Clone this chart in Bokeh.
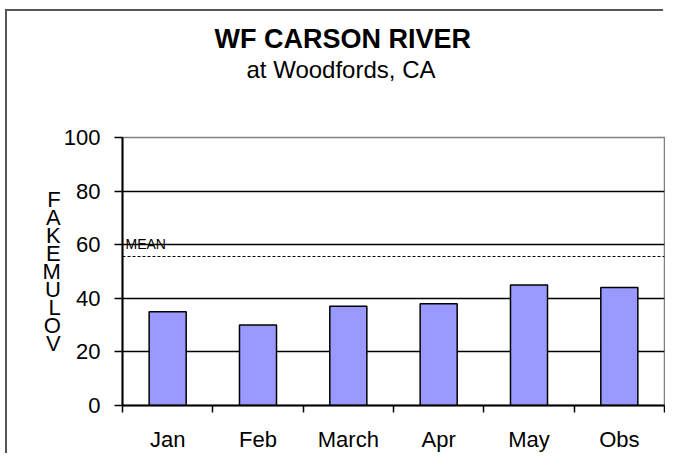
from bokeh.plotting import figure
from bokeh.models import Range1d, FixedTicker, Label, Span, ColumnDataSource, Title
from bokeh.embed import file_html
from bokeh.resources import INLINE

# ---- data ----
categories = ["Jan", "Feb", "March", "Apr", "May", "Obs"]
values = [35, 30, 37, 38, 45, 44]
mean_value = 55.6
y_ticks = [0, 20, 40, 60, 80, 100]
title_text = "WF CARSON RIVER"
subtitle_text = "at Woodfords, CA"
y_label = "FAKEMULOV"
mean_label = "MEAN"

FONT = "Liberation Sans"
n = len(categories)
centers = [i + 0.5 for i in range(n)]
bounds = [float(i) for i in range(n + 1)]

source = ColumnDataSource(dict(x=centers, top=values, cat=categories))

p = figure(width=658, height=444, output_backend="svg", toolbar_location=None,
           x_range=Range1d(0, n), y_range=Range1d(0, 100),
           min_border_left=115, min_border_right=1, min_border_top=126,
           min_border_bottom=50, background_fill_color="white",
           border_fill_color="white")
# outer chart frame (left and top edges) drawn as a shadow, without changing the box size
p.styles = {"float": "left", "margin-left": "7px", "margin-top": "11px",
            "box-shadow": "-2px -2px 0px 0px #555555"}

p.outline_line_color = "#808080"
p.outline_line_width = 1.5

# grid
p.xgrid.visible = False
p.ygrid.ticker = FixedTicker(ticks=y_ticks)
p.ygrid.grid_line_color = "black"
p.ygrid.grid_line_width = 1.5

# y axis
p.yaxis.ticker = FixedTicker(ticks=y_ticks)
p.yaxis.axis_line_color = "black"
p.yaxis.axis_line_width = 2
p.yaxis.major_tick_out = 8
p.yaxis.major_tick_in = 0
p.yaxis.major_tick_line_width = 1.5
p.yaxis.minor_tick_line_color = None
p.yaxis.major_label_standoff = 14
p.yaxis.major_label_text_font = FONT
p.yaxis.major_label_text_font_size = "22px"
p.yaxis.major_label_text_color = "black"
p.yaxis.axis_label = "\n".join(y_label)
p.yaxis.axis_label_orientation = "horizontal"
p.yaxis.axis_label_text_font = FONT
p.yaxis.axis_label_text_font_style = "normal"
p.yaxis.axis_label_text_font_size = "22px"
p.yaxis.axis_label_text_line_height = 0.72
p.yaxis.axis_label_text_color = "black"
p.yaxis.axis_label_standoff = 0

# x axis: labels at category centres, ticks at category boundaries
p.xaxis.ticker = FixedTicker(ticks=centers, minor_ticks=bounds)
p.xaxis.major_label_overrides = {c: cat for c, cat in zip(centers, categories)}
p.xaxis.axis_line_color = "black"
p.xaxis.axis_line_width = 2
p.xaxis.major_tick_out = 0
p.xaxis.major_tick_in = 0
p.xaxis.major_tick_line_color = None
p.xaxis.minor_tick_out = 7
p.xaxis.minor_tick_in = 0
p.xaxis.minor_tick_line_color = "black"
p.xaxis.minor_tick_line_width = 1.5
p.xaxis.major_label_standoff = 14
p.xaxis.major_label_text_font = FONT
p.xaxis.major_label_text_font_size = "22px"
p.xaxis.major_label_text_color = "black"

# bars
p.vbar(x="x", top="top", bottom=0, width=0.41, source=source,
       fill_color="#9999FF", line_color="black", line_width=1.5)

# mean line
p.add_layout(Span(location=mean_value, dimension="width", line_color="black",
                  line_width=1, line_dash="3 2"))
p.add_layout(Label(x=0, y=mean_value, x_offset=3, y_offset=12, text=mean_label,
                   text_font=FONT, text_font_size="14px", text_color="black",
                   text_baseline="alphabetic", text_align="left"))

# titles: invisible spacer closest to the frame, then subtitle, then title
p.add_layout(Title(text=" ", text_font_size="2px", standoff=49,
                   text_color="white"), "above")
p.add_layout(Title(text=subtitle_text, align="left", offset=124, standoff=0,
                   vertical_align="top", text_font=FONT, text_font_size="24px",
                   text_font_style="normal", text_color="black"), "above")
p.add_layout(Title(text=title_text, align="left", offset=92, standoff=0,
                   vertical_align="top", text_font=FONT, text_font_size="27px",
                   text_font_style="bold", text_color="black"), "above")

open("out.html", "w").write(file_html(p, INLINE))
